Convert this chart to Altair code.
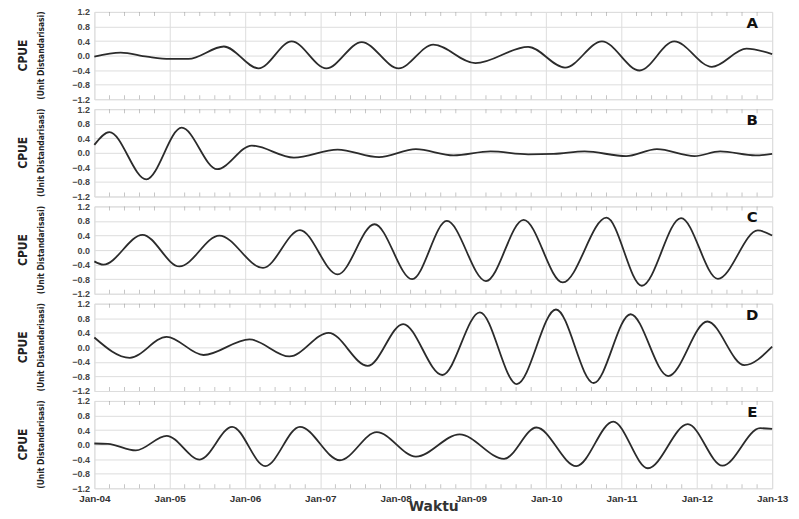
import altair as alt
import pandas as pd

# ---- data (decimal years, standardized CPUE) ----
tA = [2004.00, 2004.35, 2004.70, 2005.00, 2005.25, 2005.72, 2006.18, 2006.62, 2007.08, 2007.55,
      2008.04, 2008.50, 2009.06, 2009.76, 2010.25, 2010.74, 2011.24, 2011.70, 2012.20, 2012.66, 2013.00]
vA = [-0.03, 0.08, -0.03, -0.09, -0.09, 0.25, -0.35, 0.39, -0.35, 0.37,
      -0.35, 0.30, -0.21, 0.24, -0.33, 0.39, -0.41, 0.39, -0.31, 0.19, 0.04]

tB = [2004.00, 2004.20, 2004.69, 2005.16, 2005.63, 2006.09, 2006.65, 2007.23, 2007.78, 2008.27,
      2008.77, 2009.26, 2009.76, 2010.10, 2010.51, 2011.06, 2011.47, 2011.97, 2012.31, 2012.78, 2013.00]
vB = [0.22, 0.57, -0.73, 0.69, -0.45, 0.20, -0.13, 0.09, -0.12, 0.10,
      -0.07, 0.04, -0.04, -0.03, 0.04, -0.09, 0.10, -0.09, 0.04, -0.07, -0.03]

tC = [2004.00, 2004.12, 2004.64, 2005.13, 2005.66, 2006.24, 2006.73, 2007.23, 2007.72, 2008.22,
      2008.68, 2009.20, 2009.70, 2010.22, 2010.80, 2011.27, 2011.79, 2012.28, 2012.81, 2013.00]
vC = [-0.31, -0.40, 0.42, -0.45, 0.40, -0.49, 0.55, -0.67, 0.71, -0.80,
      0.80, -0.85, 0.83, -0.89, 0.89, -0.98, 0.88, -0.79, 0.54, 0.40]

tD = [2004.00, 2004.47, 2004.96, 2005.45, 2006.06, 2006.59, 2007.11, 2007.63, 2008.10, 2008.62,
      2009.12, 2009.61, 2010.13, 2010.63, 2011.12, 2011.62, 2012.14, 2012.63, 2013.00]
vD = [0.27, -0.29, 0.29, -0.21, 0.22, -0.25, 0.40, -0.51, 0.64, -0.76,
      0.96, -1.01, 1.04, -0.98, 0.91, -0.79, 0.71, -0.49, 0.02]

tE = [2004.00, 2004.18, 2004.55, 2004.96, 2005.40, 2005.83, 2006.27, 2006.73, 2007.26, 2007.75,
      2008.27, 2008.85, 2009.44, 2009.87, 2010.40, 2010.89, 2011.35, 2011.88, 2012.34, 2012.84, 2013.00]
vE = [0.03, 0.02, -0.16, 0.24, -0.41, 0.49, -0.59, 0.49, -0.43, 0.34,
      -0.33, 0.28, -0.39, 0.47, -0.59, 0.63, -0.65, 0.56, -0.58, 0.45, 0.43]

panels = [("A", tA, vA), ("B", tB, vB), ("C", tC, vC), ("D", tD, vD), ("E", tE, vE)]
years = list(range(2004, 2014))
minor_x = [y + k / 5 for y in range(2004, 2013) for k in range(1, 5)]
yticks = [-1.2, -0.8, -0.4, 0, 0.4, 0.8, 1.2]
ytitle1 = "CPUE"
ytitle2 = "(Unit Distandarisasi)"

W, H = 683, 88
FONT = "Liberation Sans"
CFONT = "DejaVu Sans Condensed"
XS = alt.Scale(domain=[2004, 2013], nice=False, zero=False)

def panel(letter, t, v, last):
    df = pd.DataFrame({"t": t, "v": v})
    xaxis = alt.Axis(
        values=years,
        grid=True,
        labels=last,
        ticks=False,
        title="Waktu" if last else None,
        labelExpr="'Jan-' + substring(toString(datum.value), 2, 4)",
        labelFont=FONT, labelFontWeight="bold", labelFontSize=10, labelColor="#333",
        titleFont="DejaVu Sans", titleFontWeight="bold", titleFontSize=14, titleColor="#333",
        titlePadding=-4, labelPadding=5, labelFlush=False,
        domain=False,
    )
    yaxis = alt.Axis(
        values=yticks,
        grid=True,
        title=None,
        labelFont=FONT, labelFontWeight="bold", labelFontSize=9, labelColor="#444",
        labelPadding=5, ticks=False, domain=False,
    )
    line = alt.Chart(df).mark_line(
        color="#2b2b2b", strokeWidth=1.8, interpolate="monotone"
    ).encode(
        x=alt.X("t:Q", scale=XS, axis=xaxis),
        y=alt.Y("v:Q", scale=alt.Scale(domain=[-1.2, 1.2], nice=False), axis=yaxis),
    )
    mdf = pd.DataFrame({"m": minor_x})
    mt_top = alt.Chart(mdf).mark_tick(color="#999", size=4, thickness=0.8, orient="vertical").encode(
        x=alt.X("m:Q", scale=XS), y=alt.value(2))
    mt_bot = alt.Chart(mdf).mark_tick(color="#999", size=4, thickness=0.8, orient="vertical").encode(
        x=alt.X("m:Q", scale=XS), y=alt.value(H - 2))
    lab = alt.Chart(pd.DataFrame({"l": [letter]})).mark_text(
        font="DejaVu Sans", fontWeight="bold", fontSize=15, color="#111", align="center", baseline="middle"
    ).encode(x=alt.value(W - 20), y=alt.value(11), text="l:N")
    t1 = alt.Chart(pd.DataFrame({"s": [ytitle1]})).mark_text(
        font=CFONT, fontWeight="bold", fontSize=12, color="#222", angle=270,
        align="center", baseline="middle"
    ).encode(x=alt.value(-72), y=alt.value(H / 2), text="s:N")
    t2 = alt.Chart(pd.DataFrame({"s": [ytitle2]})).mark_text(
        font=CFONT, fontWeight="bold", fontSize=8.5, color="#222", angle=270,
        align="center", baseline="middle"
    ).encode(x=alt.value(-54), y=alt.value(H / 2), text="s:N")
    return alt.layer(mt_top, mt_bot, line, lab, t1, t2).properties(width=W, height=H)

charts = [panel(l, t, v, i == len(panels) - 1) for i, (l, t, v) in enumerate(panels)]

chart = alt.vconcat(*charts, spacing=10, bounds="flush",
                    padding={"left": 8, "top": -3, "right": 2, "bottom": 0}).configure_view(
    stroke="#777", strokeWidth=1
).configure_axis(
    gridColor="#d0d0d0", gridWidth=0.8, gridDash=[2, 1]
).configure(background="white")

chart.save("out.html", embed_options={"renderer": "svg", "actions": False})
